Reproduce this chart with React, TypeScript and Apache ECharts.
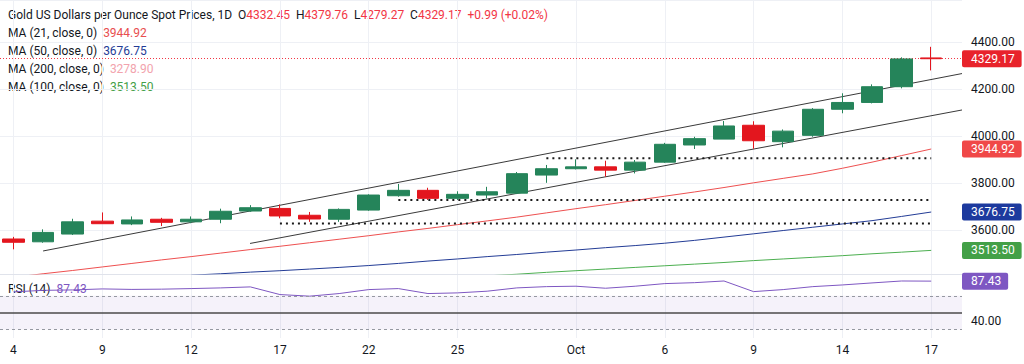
import React, { useEffect, useRef } from 'react';
import * as echarts from 'echarts';

// ---- data ----
const dates = ['4', '5', '8', '9', '10', '11', '12', '15', '16', '17', '18', '19', '22', '23', '24', '25', '26', '29', '30', 'Oct', '2', '3', '6', '7', '8', '9', '10', '13', '14', '15', '16', '17'];
const labelIdx = [0, 3, 6, 9, 12, 15, 19, 22, 25, 28, 31];

const opens = [3562, 3550, 3583, 3638, 3626, 3646, 3635, 3646, 3681, 3692, 3663, 3646, 3685, 3746, 3769, 3735, 3749, 3757, 3834, 3861, 3869, 3855, 3889, 3962, 3987, 4046, 3976, 4003, 4114, 4143, 4210, 4332.45];
const closes = [3548, 3590, 3635, 3627, 3643, 3633, 3646, 3680, 3695, 3660, 3647, 3688, 3749, 3769, 3735, 3752, 3763, 3840, 3861, 3869, 3855, 3889, 3965, 3989, 4043, 3980, 4021, 4114, 4143, 4210, 4328.18, 4329.17];
const lows = [3518, 3546, 3579, 3626, 3621, 3617, 3629, 3629, 3678, 3650, 3635, 3635, 3682, 3742, 3728, 3728, 3735, 3753, 3801, 3858, 3827, 3841, 3886, 3945, 3987, 3946, 3952, 3997, 4097, 4139, 4203, 4279.27];
const highs = [3571, 3603, 3648, 3675, 3658, 3652, 3658, 3691, 3706, 3709, 3677, 3692, 3752, 3796, 3780, 3765, 3784, 3847, 3877, 3901, 3895, 3898, 3971, 3997, 4064, 4063, 4028, 4119, 4182, 4220, 4335, 4379.76];

const ma21: (number | null)[] = [3399, 3414, 3428, 3443, 3458, 3473, 3487, 3502, 3517, 3531, 3546, 3561, 3576, 3592, 3607, 3623, 3639, 3655, 3673, 3691, 3708, 3726, 3744, 3762, 3781, 3801, 3820, 3839, 3863, 3889, 3917, 3944.92];
const ma50: (number | null)[] = [null, null, null, null, null, null, 3408, 3414, 3421, 3427, 3434, 3441, 3449, 3458, 3468, 3477, 3487, 3496, 3506, 3515, 3525, 3534, 3544, 3556, 3570, 3584, 3598, 3612, 3626, 3640, 3658, 3676.75];
const ma100: (number | null)[] = [null, null, null, null, null, null, null, null, null, null, null, null, null, null, null, null, 3405, 3412, 3420, 3427, 3434, 3441, 3448, 3455, 3462, 3470, 3477, 3484, 3491, 3499, 3506, 3513.5];
const ma200Last = 3278.9;

const rsi = [74.7, 76.5, 77, 78.2, 77.6, 77.9, 78.6, 79.4, 80.6, 71.5, 69.6, 72.7, 77.4, 78.6, 72.7, 73.5, 75.5, 79.4, 80.9, 81.4, 79, 81.4, 84.5, 85.6, 87.6, 75, 77.4, 80.9, 82.9, 85.3, 87.6, 87.43];

// trend channel lines: [index, price]
const upperChannel = [[1.0, 3511], [32.04, 4266]];
const lowerChannel = [[7.99, 3543], [32.04, 4111]];
// dotted support levels: [startIndex, endIndex, price]
const levels = [[18, 31, 3906], [13, 31, 3728], [9, 31, 3628]];

const UP = '#25845a';
const DOWN = '#e3161e';
const C_MA21 = '#ee5050';
const C_MA50 = '#233c96';
const C_MA100 = '#4caf50';
const C_MA200 = '#f2a3ad';
const C_RSI = '#7e57c2';
const TXT = '#131722';
const FONT = 'Roboto, "Liberation Sans", sans-serif';

const X_MIN = -0.456;
const X_MAX = 32.04;

function toPairs(arr: (number | null)[]) {
  const out: number[][] = [];
  arr.forEach((v, i) => { if (v !== null) out.push([i, v]); });
  return out;
}

function pillLabel(text: string, bg: string) {
  return {
    show: true,
    position: 'end',
    distance: 0,
    formatter: () => text,
    backgroundColor: bg,
    color: '#ffffff',
    fontSize: 12,
    fontFamily: FONT,
    padding: [3, 7, 2, 9],
    borderRadius: 2,
  };
}

function pill(value: number, bg: string) {
  return {
    silent: true,
    symbol: ['none', 'none'],
    lineStyle: { color: 'rgba(0,0,0,0)', width: 0 },
    label: pillLabel(value.toFixed(2), bg),
    data: [{ yAxis: value }],
  };
}

export default function App() {
  const ref = useRef<HTMLDivElement>(null);
  useEffect(() => {
    if (!ref.current) return;
    const chart = echarts.init(ref.current, null, { renderer: 'svg' });
    const n = closes.length;
    const last = n - 1;
    const change = closes[last] - closes[last - 1];
    const pct = (change / closes[last - 1]) * 100;
    const sign = change >= 0 ? '+' : '';

    const candleData = opens.map((o, i) => [i, o, closes[i], lows[i], highs[i]]);
    const xSplit = { show: true, lineStyle: { color: '#eef0f5', width: 1 } };

    const option: any = {
      animation: false,
      backgroundColor: '#ffffff',
      textStyle: { fontFamily: FONT },
      grid: [
        { left: 0, right: 62, top: 0, height: 274 },
        { left: 0, right: 62, top: 275, height: 63 },
      ],
      xAxis: [
        {
          type: 'value', gridIndex: 0, min: X_MIN, max: X_MAX,
          axisLabel: { show: false, customValues: labelIdx },
          axisTick: { show: false, customValues: labelIdx },
          axisLine: { show: true, onZero: false, lineStyle: { color: '#e0e3eb' } },
          splitLine: xSplit,
        },
        {
          type: 'value', gridIndex: 1, min: X_MIN, max: X_MAX,
          axisLabel: {
            customValues: labelIdx,
            formatter: (v: number) => dates[Math.round(v)] ?? '',
            color: TXT, fontSize: 12, margin: 6, fontFamily: FONT,
          },
          axisTick: { show: false, customValues: labelIdx },
          axisLine: { show: false },
          splitLine: xSplit,
        },
      ],
      yAxis: [
        {
          type: 'value', gridIndex: 0, position: 'right', min: 3413, max: 4579, splitNumber: 6,
          axisLabel: {
            formatter: (v: number) => (Math.abs(v % 200) < 1e-6 ? v.toFixed(2) : ''),
            color: TXT, fontSize: 12, margin: 9, fontFamily: FONT,
          },
          axisLine: { show: false }, axisTick: { show: false },
          splitLine: { show: true, lineStyle: { color: '#eef0f5' } },
        },
        {
          type: 'value', gridIndex: 1, position: 'right', min: 20, max: 94.7, interval: 20,
          axisLabel: {
            formatter: (v: number) => (v === 40 ? '40.00' : ''),
            color: TXT, fontSize: 12, margin: 9, fontFamily: FONT,
          },
          axisLine: { show: false }, axisTick: { show: false },
          splitLine: { show: false },
        },
      ],
      series: [
        {
          type: 'line', xAxisIndex: 0, yAxisIndex: 0, data: toPairs(ma100), showSymbol: false,
          lineStyle: { color: C_MA100, width: 1 }, silent: true, z: 2,
          markLine: pill(ma100[last] as number, '#43a047'),
        },
        {
          type: 'line', xAxisIndex: 0, yAxisIndex: 0, data: toPairs(ma50), showSymbol: false,
          lineStyle: { color: C_MA50, width: 1 }, silent: true, z: 2,
          markLine: pill(ma50[last] as number, '#1d3a9e'),
        },
        {
          type: 'line', xAxisIndex: 0, yAxisIndex: 0, data: toPairs(ma21), showSymbol: false,
          lineStyle: { color: C_MA21, width: 1 }, silent: true, z: 2,
          markLine: pill(ma21[last] as number, '#f04848'),
        },
        {
          type: 'line', xAxisIndex: 0, yAxisIndex: 0, data: upperChannel, showSymbol: false,
          lineStyle: { color: '#3a3a3a', width: 1 }, silent: true, z: 3,
        },
        {
          type: 'line', xAxisIndex: 0, yAxisIndex: 0, data: lowerChannel, showSymbol: false,
          lineStyle: { color: '#3a3a3a', width: 1 }, silent: true, z: 3,
        },
        ...levels.map((l) => ({
          type: 'line', xAxisIndex: 0, yAxisIndex: 0,
          data: [[l[0], l[2]], [l[1], l[2]]], showSymbol: false,
          lineStyle: { color: '#1a1a1a', width: 2, type: [2, 4] }, silent: true, z: 3,
        })),
        {
          type: 'candlestick', xAxisIndex: 0, yAxisIndex: 0, data: candleData,
          encode: { x: 0, y: [1, 2, 3, 4] },
          barWidth: 22, silent: true, z: 5,
          itemStyle: { color: UP, color0: DOWN, borderColor: UP, borderColor0: DOWN, borderWidth: 1 },
          markLine: {
            silent: true,
            symbol: ['none', 'none'],
            lineStyle: { color: '#f23645', type: [1, 2], width: 1 },
            label: pillLabel(closes[last].toFixed(2), '#e8232b'),
            data: [{ yAxis: closes[last] }],
          },
        },
        {
          type: 'line', xAxisIndex: 1, yAxisIndex: 1, data: rsi.map((v, i) => [i, v]), showSymbol: false,
          lineStyle: { color: C_RSI, width: 1 }, silent: true, z: 4,
          markArea: {
            silent: true,
            itemStyle: { color: 'rgba(126,87,194,0.08)' },
            data: [[{ yAxis: 30 }, { yAxis: 70 }]],
          },
          markLine: {
            silent: true,
            symbol: ['none', 'none'],
            data: [
              { yAxis: 70, lineStyle: { color: '#9598a1', type: [3, 3], width: 1 }, label: { show: false } },
              { yAxis: 30, lineStyle: { color: '#9598a1', type: [3, 3], width: 1 }, label: { show: false } },
              { yAxis: 50, lineStyle: { color: '#4a4a4a', type: 'solid', width: 1.5 }, label: { show: false } },
            ],
          },
        },
        {
          type: 'line', xAxisIndex: 1, yAxisIndex: 1, data: [], silent: true,
          markLine: pill(rsi[last], C_RSI),
        },
      ],
      graphic: [
        {
          type: 'text', left: 8, top: 9, silent: true,
          style: {
            text:
              `{k|Gold US Dollars per Ounce Spot Prices, 1D  O}{r|${opens[last].toFixed(2)}}` +
              `{k|  H}{r|${highs[last].toFixed(2)}}{k|  L}{r|${lows[last].toFixed(2)}}` +
              `{k|  C}{r|${closes[last].toFixed(2)}}{r|  ${sign}${change.toFixed(2)} (${sign}${pct.toFixed(2)}%)}`,
            rich: {
              k: { fill: TXT, fontSize: 12, fontFamily: FONT },
              r: { fill: '#f23645', fontSize: 12, fontFamily: FONT },
            },
          },
        },
        ...[
          ['MA (21, close, 0)', (ma21[last] as number).toFixed(2), '#e84e4e'],
          ['MA (50, close, 0)', (ma50[last] as number).toFixed(2), C_MA50],
          ['MA (200, close, 0)', ma200Last.toFixed(2), C_MA200],
          ['MA (100, close, 0)', (ma100[last] as number).toFixed(2), '#43a047'],
        ].map((row, k) => ({
          type: 'text', left: 8, top: 27 + k * 18, silent: true,
          style: {
            text: `{k|${row[0]}}{v|  ${row[1]}}`,
            rich: {
              k: { fill: TXT, fontSize: 12, fontFamily: FONT },
              v: { fill: row[2], fontSize: 12, fontFamily: FONT },
            },
          },
        })),
        {
          type: 'text', left: 8, top: 283, silent: true,
          style: {
            text: `{k|RSI (14)}{v|  ${rsi[last].toFixed(2)}}`,
            rich: {
              k: { fill: TXT, fontSize: 12, fontFamily: FONT },
              v: { fill: C_RSI, fontSize: 12, fontFamily: FONT },
            },
          },
        },
      ],
    };
    chart.setOption(option);
    return () => chart.dispose();
  }, []);
  return <div ref={ref} style={{ position: 'fixed', left: 0, top: 0, width: 1024, height: 364 }} />;
}
